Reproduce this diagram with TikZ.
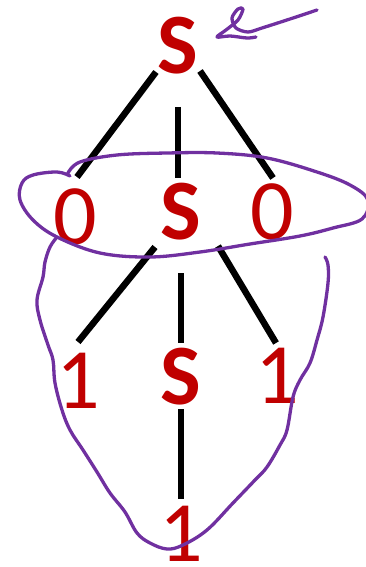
\documentclass[tikz,border=0pt]{standalone}
\usepackage{fontspec}
\setmainfont{Carlito}
\usetikzlibrary{calc}
\definecolor{tred}{HTML}{C00000}
\definecolor{tpurple}{HTML}{7030A0}
\tikzset{
  sym/.style={text=tred, inner sep=0pt, anchor=base, font=\fontsize{86}{86}\selectfont},
  var/.style={sym, font=\fontsize{86}{86}\selectfont\bfseries},
  edge/.style={line width=6.5pt, black},
  ink/.style={tpurple, line width=3.3pt, line cap=round, line join=round}
}
\begin{document}
\begin{tikzpicture}[x=1pt,y=-1pt]
\useasboundingbox (0,0) rectangle (366,567);
\node[var] (s1) at (178,74) {S};
\node[sym] (z1) at (75,244) {0};
\node[var] (s2) at (181,239) {S};
\node[sym] (z2) at (272,239) {0};
\node[sym] (o1) at (78,408) {1};
\node[var] (s3) at (181,404) {S};
\node[sym] (o2) at (277,403) {1};
\node[sym] (o3) at (181,561) {1};
\draw[edge] ($(s1.base)+(-22,-2)$) -- ($(z1.base)+(2,-67)$);
\draw[edge] ($(s1.base)+(0,33)$) -- ($(s2.base)+(-3,-61)$);
\draw[edge] ($(s1.base)+(22,-3)$) -- ($(z2.base)+(1,-61)$);
\draw[edge] ($(s2.base)+(-26,8)$) -- ($(o1.base)+(0,-66)$);
\draw[edge] ($(s2.base)+(0,34)$) -- ($(s3.base)+(0,-61)$);
\draw[edge] ($(s2.base)+(37,7)$) -- ($(o2.base)+(-1,-60)$);
\draw[edge] ($(s3.base)+(0,5)$) -- ($(o3.base)+(0,-62)$);
% arrow scribble
\draw[ink] plot[smooth, tension=0.5] coordinates {(317,10) (290,19) (262,28) (248,32) (236,28) (232,18) (238,9) (243,9) (238,20) (226,30) (217,37) (230,36) (247,38) (256,37)};
% loop around the middle row
\draw[ink] plot[smooth, tension=0.6] coordinates {(68,173) (80,162) (117,155) (167,153) (217,153) (267,158) (317,172) (350,185) (368,200) (362,219) (333,228) (300,236) (250,244) (200,252) (150,257) (100,253) (57,237) (33,220) (20,200) (22,183) (33,175) (57,172) (70,176)};
% pear-shaped loop
\draw[ink] plot[smooth, tension=0.6] coordinates {(57,237) (50,247) (45,262) (43,277) (37,300) (40,320) (48,345) (53,360) (55,383) (62,410) (70,430) (83,450) (97,472) (110,493) (125,512) (137,533) (150,543) (167,549) (183,545) (207,530) (233,503) (255,480) (267,467) (280,445) (287,430) (293,397) (300,380) (310,363) (317,340) (323,317) (328,283) (328,265) (325,257)};
\end{tikzpicture}
\end{document}
